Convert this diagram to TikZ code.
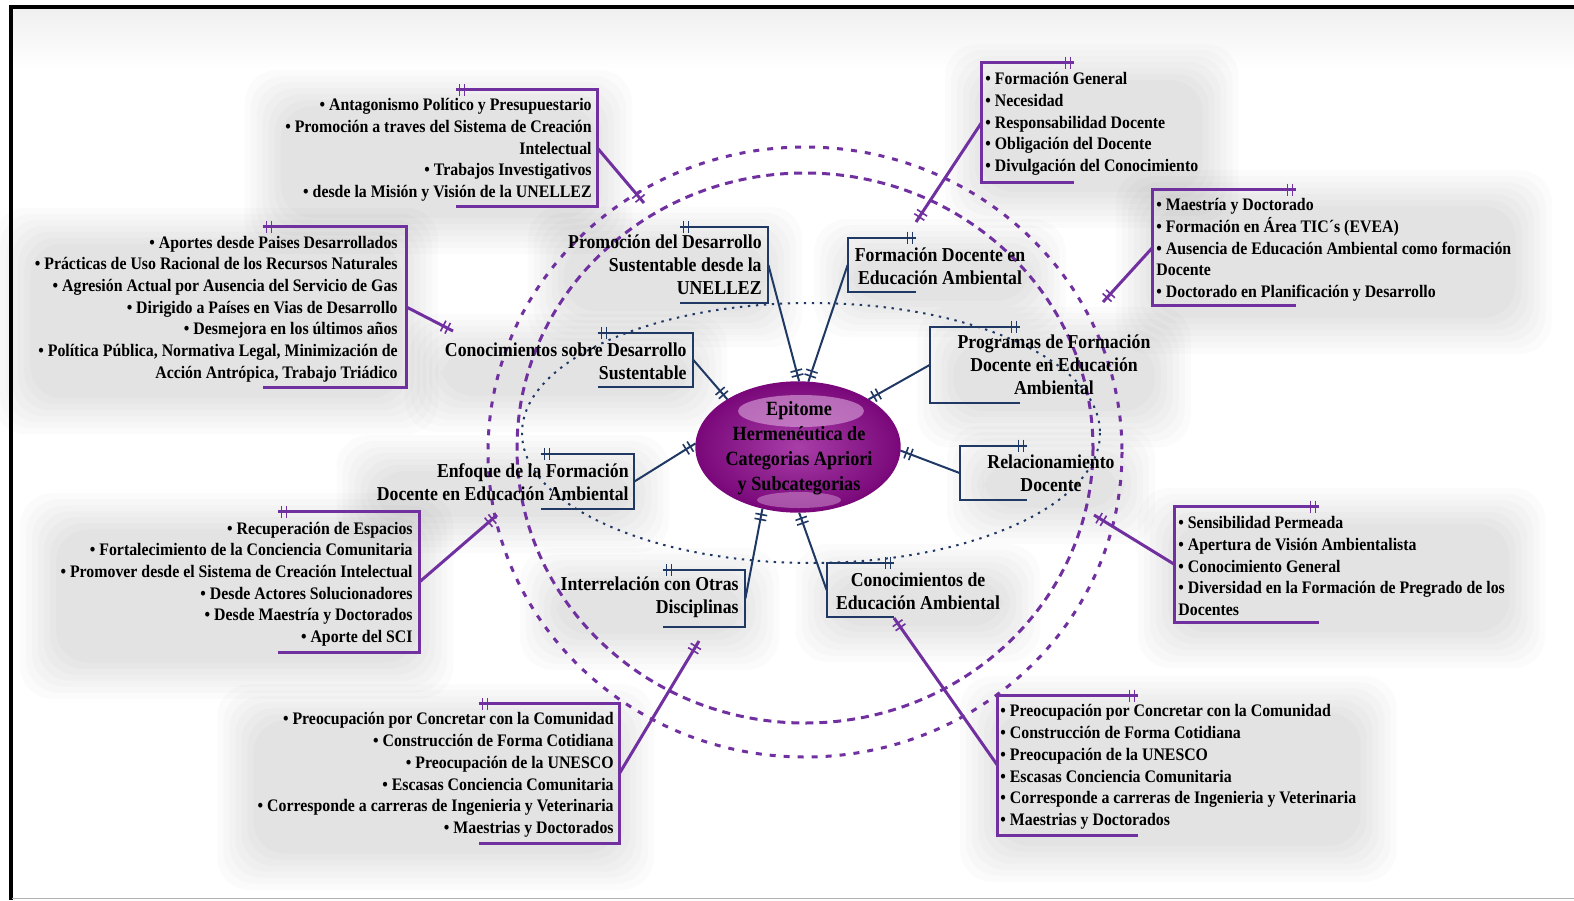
\documentclass[tikz,border=0pt]{standalone}
\usepackage{fontspec}
\setmainfont{Liberation Serif}[FakeStretch=0.9]
\usetikzlibrary{shapes.geometric,fit,decorations.markings,backgrounds}

\definecolor{navy}{HTML}{1F3864}
\definecolor{purp}{HTML}{7030A0}
\definecolor{epidark}{HTML}{7A087A}
\definecolor{epilight}{HTML}{A83EA8}
\definecolor{epishine}{HTML}{DDA8DD}

\begin{document}
\begin{tikzpicture}[x=0.5pt, y=-0.5pt,
    navyline/.style={draw, color=navy, line width=1pt},
    purpline/.style={draw, color=purp, line width=1.5pt},
    lidbars/.style={postaction={decorate, decoration={markings,
        mark=at position 2pt with {\draw[line width=0.8pt] (0,-3pt) -- (0,3pt);},
        mark=at position 4.5pt with {\draw[line width=0.8pt] (0,-3pt) -- (0,3pt);}}}},
    endbars/.style={postaction={decorate, decoration={markings,
        mark=at position -3pt with {\draw[line width=0.8pt] (0,-3pt) -- (0,3pt);},
        mark=at position -5.5pt with {\draw[line width=0.8pt] (0,-3pt) -- (0,3pt);}}}},
    brk/.style={inner sep=0pt},
    catg/.style={font=\fontsize{9.85}{11.5}\selectfont\bfseries, inner sep=0pt},
    items/.style={font=\fontsize{8.8}{10.85}\selectfont\bfseries, inner sep=0pt},
  ]
  \useasboundingbox (0,0) rectangle (1574,900);

  % outer frame
  \draw[line width=2pt] (10.5,900) -- (10.5,6.5) -- (1574,6.5);
  \draw[black!30, line width=0.6pt] (12,898.5) -- (1574,898.5);

  % rings round the centre
  \draw[purp, line width=1.5pt, dash pattern=on 3pt off 4pt] (805,452) ellipse [x radius=317, y radius=305];
  \draw[purp, line width=1.5pt, dash pattern=on 4pt off 3pt] (805,448) ellipse [x radius=288, y radius=275];
  \draw[navy, line width=1pt, dash pattern=on 1.2pt off 2.8pt] (811,433) ellipse [x radius=289, y radius=130];

  % centre
  \node[ellipse, minimum width=101.5pt, minimum height=64.5pt, inner sep=0pt,
        draw=epidark, line width=1.2pt, inner color=epilight, outer color=epidark] (epi) at (798,447) {};
  \fill[epishine, opacity=0.6] (801,411) ellipse [x radius=63, y radius=16];
  \fill[epishine, opacity=0.45] (799,500) ellipse [x radius=42, y radius=8];
  \node[align=center, font=\fontsize{10.1}{12.5}\selectfont\bfseries, inner sep=0pt] (epitxt) at (799,448)
    {Epitome\\Hermenéutica de\\Categorias Apriori\\y Subcategorias};

  % categories
  \node[catg, anchor=east, align=right] (promo) at (762,265) {Promoción del Desarrollo\\Sustentable desde la\\UNELLEZ};
  \node[catg, anchor=east, align=right] (conoc) at (687,361) {Conocimientos sobre Desarrollo\\Sustentable};
  \node[catg, align=center] (formdoc) at (940,266) {Formación Docente en\\Educación Ambiental};
  \node[catg, align=center] (program) at (1054,365) {Programas de Formación\\Docente en Educación\\Ambiental};
  \node[catg, align=center] (relac) at (1051,473) {Relacionamiento\\Docente};
  \node[catg, align=center] (conedu) at (918,591) {Conocimientos de\\Educación Ambiental};
  \node[catg, anchor=east, align=right] (interrel) at (739,597) {Interrelación con Otras\\Disciplinas};
  \node[catg, anchor=east, align=right] (enfoque) at (629,482) {Enfoque de la Formación\\Docente en Educación Ambiental};

  \node[brk, fit={(680,227) (768,303)}] (promo-fr) {};
  \node[brk, fit={(598,333) (693,387)}] (conoc-fr) {};
  \node[brk, fit={(848,238) (916,292)}] (formdoc-fr) {};
  \node[brk, fit={(930,327) (1020,403)}] (program-fr) {};
  \node[brk, fit={(960,446) (1027,500)}] (relac-fr) {};
  \node[brk, fit={(827,563) (894,617)}] (conedu-fr) {};
  \node[brk, fit={(663,570) (745,627)}] (interrel-fr) {};
  \node[brk, fit={(541,454) (634,509)}] (enfoque-fr) {};

  \foreach \f in {promo-fr, conoc-fr, interrel-fr, enfoque-fr}
    \draw[navyline, lidbars] (\f.north west) -- (\f.north east) -- (\f.south east) -- (\f.south west);
  \foreach \f in {formdoc-fr, program-fr, relac-fr, conedu-fr}
    \draw[navyline, lidbars] (\f.north east) -- (\f.north west) -- (\f.south west) -- (\f.south east);

  \draw[navyline, endbars] (promo-fr.east) -- (epi.89);
  \draw[navyline, endbars] (conoc-fr.east) -- (epi.146);
  \draw[navyline, endbars] (formdoc-fr.west) -- (epi.81);
  \draw[navyline, endbars] (program-fr.west) -- (epi.34);
  \draw[navyline, endbars] (relac-fr.west) -- (epi.358);
  \draw[navyline, endbars] (conedu-fr.west) -- (epi.271);
  \draw[navyline, endbars] (interrel-fr.east) -- (epi.240);
  \draw[navyline, endbars] (enfoque-fr.east) -- (epi.178);

  % subcategory lists
  \node[items, anchor=east, align=right] (promo-list) at (592,150)
    {• Antagonismo Político y Presupuestario\\• Promoción a traves del Sistema de Creación\\Intelectual\\• Trabajos Investigativos\\• desde la Misión y Visión de la UNELLEZ};
  \node[items, anchor=east, align=right] (conoc-list) at (398,309)
    {• Aportes desde Paises Desarrollados\\• Prácticas de Uso Racional de los Recursos Naturales\\• Agresión Actual por Ausencia del Servicio de Gas\\• Dirigido a Países en Vias de Desarrollo\\• Desmejora en los últimos años\\• Política Pública, Normativa Legal, Minimización de\\Acción Antrópica, Trabajo Triádico};
  \node[items, anchor=west, align=left] (formdoc-list) at (985,124)
    {• Formación General\\• Necesidad\\• Responsabilidad Docente\\• Obligación del Docente\\• Divulgación del Conocimiento};
  \node[items, anchor=west, align=left] (program-list) at (1156,250)
    {• Maestría y Doctorado\\• Formación en Área TIC´s (EVEA)\\• Ausencia de Educación Ambiental como formación\\Docente\\• Doctorado en Planificación y Desarrollo};
  \node[items, anchor=west, align=left] (relac-list) at (1178,566)
    {• Sensibilidad Permeada\\• Apertura de Visión Ambientalista\\• Conocimiento General\\• Diversidad en la Formación de Pregrado de los\\Docentes};
  \node[items, anchor=west, align=left] (conedu-list) at (1000,767)
    {• Preocupación por Concretar con la Comunidad\\• Construcción de Forma Cotidiana\\• Preocupación de la UNESCO\\• Escasas Conciencia Comunitaria\\• Corresponde a carreras de Ingenieria y Veterinaria\\• Maestrias y Doctorados};
  \node[items, anchor=east, align=right] (enfoque-list) at (413,584)
    {• Recuperación de Espacios\\• Fortalecimiento de la Conciencia Comunitaria\\• Promover desde el Sistema de Creación Intelectual\\• Desde Actores Solucionadores\\• Desde Maestría y Doctorados\\• Aporte del SCI};
  \node[items, anchor=east, align=right] (interrel-list) at (614,775)
    {• Preocupación por Concretar con la Comunidad\\• Construcción de Forma Cotidiana\\• Preocupación de la UNESCO\\• Escasas Conciencia Comunitaria\\• Corresponde a carreras de Ingenieria y Veterinaria\\• Maestrias y Doctorados};

  \node[brk, fit={(456,90) (597,206)}] (promo-lfr) {};
  \node[brk, fit={(263,227) (406,387)}] (conoc-lfr) {};
  \node[brk, fit={(982,63) (1074,182)}] (formdoc-lfr) {};
  \node[brk, fit={(1153,190) (1296,305)}] (program-lfr) {};
  \node[brk, fit={(1175,507) (1319,622)}] (relac-lfr) {};
  \node[brk, fit={(998,696) (1138,835)}] (conedu-lfr) {};
  \node[brk, fit={(278,512) (419,652)}] (enfoque-lfr) {};
  \node[brk, fit={(479,704) (619,843)}] (interrel-lfr) {};

  \foreach \f in {promo-lfr, conoc-lfr, enfoque-lfr, interrel-lfr}
    \draw[purpline, lidbars] (\f.north west) -- (\f.north east) -- (\f.south east) -- (\f.south west);
  \foreach \f in {formdoc-lfr, program-lfr, relac-lfr, conedu-lfr}
    \draw[purpline, lidbars] (\f.north east) -- (\f.north west) -- (\f.south west) -- (\f.south east);

  \coordinate (promo-end) at (644,203);
  \coordinate (conoc-end) at (453,331);
  \coordinate (formdoc-end) at (916,222);
  \coordinate (program-end) at (1103,302);
  \coordinate (relac-end) at (1094,515);
  \coordinate (conedu-end) at (894,618);
  \coordinate (enfoque-end) at (497,515);
  \coordinate (interrel-end) at (699,641);

  \draw[purpline, endbars] (promo-lfr.east) -- (promo-end);
  \draw[purpline, endbars] (conoc-lfr.east) -- (conoc-end);
  \draw[purpline, endbars] (formdoc-lfr.west) -- (formdoc-end);
  \draw[purpline, endbars] (program-lfr.west) -- (program-end);
  \draw[purpline, endbars] (relac-lfr.west) -- (relac-end);
  \draw[purpline, endbars] (conedu-lfr.west) -- (conedu-end);
  \draw[purpline, endbars] (enfoque-lfr.east) -- (enfoque-end);
  \draw[purpline, endbars] (interrel-lfr.east) -- (interrel-end);

  % soft shadows behind the texts
  \begin{scope}[on background layer]
    \fill[white] (0,0) rectangle (1574,900);
    \shade[top color=black!6, bottom color=white] (12,8) rectangle (1574,70);
    \foreach \n in {promo, conoc, formdoc, program, relac, conedu, interrel, enfoque,
                    promo-list, conoc-list, formdoc-list, program-list, relac-list, conedu-list, enfoque-list, interrel-list}
      \foreach \s in {20pt, 17pt, 14pt, 11pt, 8pt, 5pt, 2pt}
        \fill[black, opacity=0.016, rounded corners=16pt]
          ([shift={(-\s,-\s-6pt)}]\n.south west) rectangle ([shift={(\s,\s-6pt)}]\n.north east);
  \end{scope}
\end{tikzpicture}
\end{document}
